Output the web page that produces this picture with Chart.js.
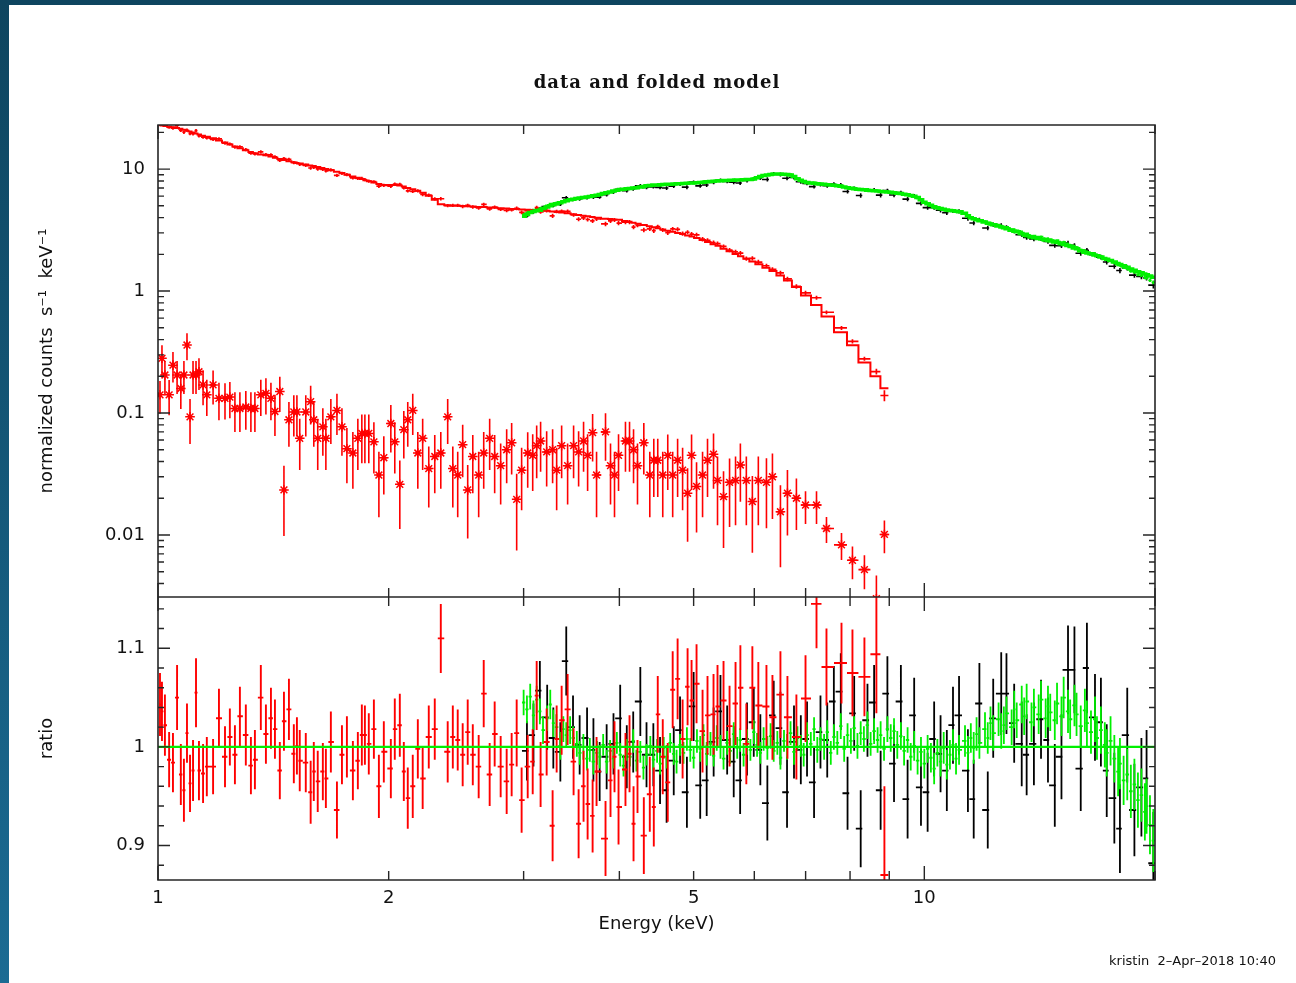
<!DOCTYPE html>
<html>
<head>
<meta charset="utf-8">
<title>data and folded model</title>
<script src="https://cdn.jsdelivr.net/npm/chart.js@4.4.1/dist/chart.umd.min.js"></script>
<style>
  html, body { margin: 0; padding: 0; }
  body { width: 1296px; height: 983px; overflow: hidden; position: relative;
         background: linear-gradient(#0e455f, #1b6b93); }
  #sheet { position: absolute; left: 9px; top: 5px; width: 1287px; height: 978px; background: #fff; }
  #chart { position: absolute; left: 0; top: 0; }
  #title { position: absolute; left: 0; width: 1296px; top: 66px; text-align: center;
           font: bold 18px "DejaVu Serif", serif; letter-spacing: 1px; color: #111; }
  #stamp { position: absolute; right: 20px; top: 948px; font: 13px "DejaVu Sans", sans-serif; color: #111; }
</style>
</head>
<body>
<div id="sheet">
  <canvas id="chart" width="1287" height="978"></canvas>
  <div id="title">data and folded model</div>
  <div id="stamp">kristin&nbsp;&nbsp;2&#8211;Apr&#8211;2018 10:40</div>
</div>
<script>
// axis tick labels
const xTickLabels = [1, 2, 5, 10];
const topTickLabels = [0.01, 0.1, 1, 10];
const ratioTickLabels = [0.9, 1, 1.1];

// spectrum 2 (red): bin centres (keV), folded model, data/model ratio and its error
const redEnergy = [
  1.006,1.012,1.021,1.034,1.046,1.059,1.071,1.081,1.091,1.101,
  1.111,1.121,1.131,1.145,1.158,1.180,1.201,1.223,1.241,1.260,
  1.279,1.302,1.322,1.338,1.362,1.383,1.404,1.421,1.442,1.460,
  1.482,1.504,1.518,1.531,1.559,1.582,1.597,1.616,1.641,1.656,
  1.681,1.712,1.738,1.764,1.796,1.823,1.845,1.862,1.884,1.913,
  1.942,1.971,2.013,2.037,2.068,2.093,2.118,2.150,2.183,2.215,
  2.256,2.297,2.339,2.388,2.425,2.461,2.498,2.536,2.575,2.621,
  2.661,2.709,2.750,2.800,2.851,2.894,2.938,2.982,3.037,3.083,
  3.120,3.157,3.215,3.273,3.313,3.363,3.424,3.486,3.539,3.592,
  3.636,3.691,3.735,3.837,3.895,3.942,3.990,4.074,4.124,4.174,
  4.224,4.305,4.383,4.436,4.489,4.557,4.626,4.695,4.765,4.837,
  4.910,4.969,5.044,5.136,5.213,5.308,5.372,5.470,5.570,5.671,
  5.754,5.858,5.965,6.073,6.223,6.336,6.490,6.628,6.809,6.998,
  7.233,7.453,7.797,8.058,8.353,8.659,8.870
];
const redModel = [
  22.9,22.8,22.6,22.3,22.0,21.7,21.4,21.0,20.6,20.3,
  20.0,19.6,19.2,18.8,18.4,17.9,17.2,16.5,15.9,15.3,
  14.8,14.3,13.8,13.5,13.2,13.0,12.7,12.4,12.1,11.9,
  11.6,11.4,11.2,11.1,10.9,10.7,10.6,10.4,10.2,10.0,
  9.8,9.5,9.3,9.0,8.7,8.5,8.3,8.1,7.95,7.75,
  7.55,7.4,7.4,7.4,7.35,7.2,7.0,6.85,6.65,6.4,
  6.05,5.6,5.15,5.05,5.0,5.0,4.98,4.96,4.93,4.9,
  4.88,4.85,4.82,4.78,4.75,4.72,4.7,4.67,4.65,4.62,
  4.6,4.58,4.55,4.5,4.46,4.4,4.34,4.27,4.21,4.15,
  4.1,4.05,4.0,3.92,3.9,3.87,3.84,3.76,3.7,3.63,
  3.57,3.48,3.4,3.33,3.27,3.2,3.12,3.06,3.0,2.94,
  2.86,2.8,2.72,2.62,2.53,2.42,2.35,2.22,2.12,2.01,
  1.93,1.84,1.75,1.66,1.55,1.46,1.34,1.22,1.08,0.92,
  0.77,0.62,0.46,0.36,0.26,0.2,0.16
];
const redRatio = [
  1.043,1.036,1.022,0.987,0.984,1.050,0.972,0.956,1.014,0.963,
  0.976,1.055,0.976,0.973,0.980,0.980,1.029,0.990,1.010,0.992,
  1.031,1.012,0.981,0.987,1.050,1.013,1.029,1.018,0.976,1.026,
  1.038,0.993,1.001,0.986,0.984,0.954,0.975,0.965,0.975,0.968,
  1.005,0.936,0.992,1.000,0.976,0.986,1.012,1.012,1.003,1.018,
  0.960,0.995,0.978,1.018,1.022,0.975,0.948,0.960,0.998,0.968,
  1.010,1.018,1.110,0.995,1.010,1.007,0.992,1.015,0.992,0.980,
  1.054,0.972,1.013,0.980,0.965,0.982,1.014,0.946,0.980,0.985,
  1.052,0.972,1.005,0.920,1.008,1.027,1.038,0.985,0.922,0.960,
  0.942,0.930,0.975,0.907,0.966,0.990,0.939,0.977,0.993,0.922,
  0.970,0.910,0.952,0.939,1.033,0.990,0.964,1.058,1.069,1.008,
  1.061,1.047,1.064,1.016,1.032,1.033,1.041,1.047,1.021,1.044,
  1.060,1.003,1.060,1.042,1.041,1.030,1.053,1.030,1.010,1.049,
  1.145,1.081,1.085,1.075,1.071,1.094,0.870
];
const redRatioErr = [
  0.032,0.03,0.031,0.028,0.03,0.033,0.031,0.032,0.03,0.029,
  0.031,0.035,0.03,0.03,0.03,0.028,0.03,0.031,0.029,0.03,
  0.03,0.031,0.029,0.03,0.033,0.03,0.031,0.03,0.029,0.03,
  0.031,0.03,0.029,0.031,0.03,0.032,0.03,0.031,0.029,0.03,
  0.031,0.029,0.03,0.031,0.03,0.029,0.031,0.03,0.031,0.03,
  0.032,0.031,0.03,0.031,0.032,0.03,0.031,0.032,0.03,0.031,
  0.032,0.031,0.035,0.031,0.032,0.031,0.032,0.033,0.031,0.032,
  0.034,0.032,0.033,0.031,0.033,0.032,0.034,0.033,0.032,0.033,
  0.035,0.033,0.034,0.036,0.034,0.035,0.036,0.034,0.035,0.036,
  0.036,0.037,0.035,0.038,0.037,0.036,0.038,0.037,0.039,0.038,
  0.037,0.039,0.038,0.04,0.039,0.038,0.04,0.039,0.041,0.04,
  0.039,0.041,0.04,0.042,0.04,0.041,0.042,0.04,0.041,0.042,
  0.043,0.041,0.042,0.044,0.042,0.043,0.044,0.042,0.043,0.044,
  0.045,0.039,0.041,0.044,0.04,0.06,0.09
];
// spectrum 2 background (red stars), same binning, with relative error
const redBkg = [
  0.141,0.281,0.205,0.141,0.247,0.205,0.159,0.205,0.361,0.093,
  0.205,0.205,0.218,0.170,0.141,0.170,0.132,0.132,0.135,0.109,
  0.109,0.112,0.109,0.109,0.141,0.145,0.132,0.103,0.150,0.0234,
  0.088,0.102,0.102,0.062,0.102,0.124,0.088,0.062,0.077,0.062,
  0.093,0.105,0.077,0.051,0.047,0.062,0.068,0.068,0.068,0.058,
  0.031,0.043,0.082,0.058,0.026,0.073,0.088,0.105,0.047,0.062,
  0.035,0.044,0.047,0.093,0.035,0.031,0.055,0.0234,0.044,0.031,
  0.047,0.062,0.044,0.037,0.050,0.057,0.0196,0.034,0.047,0.045,
  0.054,0.059,0.048,0.050,0.034,0.054,0.037,0.054,0.048,0.059,
  0.045,0.069,0.031,0.070,0.037,0.031,0.045,0.059,0.059,0.050,
  0.037,0.057,0.031,0.041,0.041,0.031,0.045,0.031,0.041,0.034,
  0.022,0.045,0.025,0.031,0.041,0.046,0.028,0.0206,0.027,0.028,
  0.0375,0.028,0.0188,0.028,0.027,0.030,0.0155,0.022,0.020,0.0176,
  0.0176,0.0113,0.0083,0.0062,0.0052,0.003,0.0101
];
const redBkgRelErr = [
  0.3,0.28,0.3,0.32,0.28,0.3,0.32,0.3,0.25,0.4,
  0.3,0.3,0.29,0.32,0.33,0.31,0.34,0.33,0.33,0.36,
  0.36,0.35,0.36,0.36,0.33,0.33,0.34,0.37,0.32,0.58,
  0.4,0.37,0.37,0.45,0.37,0.35,0.4,0.45,0.42,0.45,
  0.4,0.37,0.42,0.48,0.49,0.45,0.43,0.43,0.43,0.45,
  0.55,0.5,0.42,0.45,0.57,0.42,0.4,0.37,0.49,0.45,
  0.52,0.5,0.49,0.4,0.52,0.55,0.46,0.6,0.5,0.55,
  0.49,0.45,0.5,0.52,0.47,0.45,0.62,0.53,0.48,0.49,
  0.46,0.44,0.48,0.47,0.53,0.46,0.52,0.46,0.48,0.44,
  0.49,0.42,0.55,0.42,0.52,0.55,0.49,0.44,0.44,0.47,
  0.52,0.45,0.55,0.5,0.5,0.55,0.48,0.55,0.5,0.53,
  0.6,0.48,0.58,0.55,0.5,0.48,0.57,0.62,0.57,0.57,
  0.5,0.57,0.62,0.57,0.58,0.55,0.65,0.55,0.45,0.3,
  0.3,0.24,0.25,0.3,0.31,0.55,0.3
];

// spectrum 3 (green): bin centres (keV), folded model, ratio and error
const hardEnergy = [
  3.00,3.03,3.06,3.09,3.12,3.15,3.18,3.22,3.25,3.28,
  3.31,3.35,3.38,3.41,3.45,3.48,3.52,3.55,3.59,3.63,
  3.66,3.70,3.74,3.77,3.81,3.85,3.89,3.93,3.97,4.01,
  4.05,4.09,4.13,4.17,4.21,4.26,4.30,4.34,4.39,4.43,
  4.48,4.52,4.57,4.61,4.66,4.71,4.75,4.80,4.85,4.90,
  4.95,5.00,5.05,5.10,5.15,5.20,5.26,5.31,5.36,5.42,
  5.47,5.53,5.58,5.64,5.70,5.75,5.81,5.87,5.93,5.99,
  6.05,6.11,6.17,6.24,6.30,6.36,6.43,6.49,6.56,6.62,
  6.69,6.76,6.83,6.90,6.96,7.03,7.11,7.18,7.25,7.32,
  7.40,7.47,7.55,7.62,7.70,7.78,7.86,7.94,8.02,8.10,
  8.18,8.26,8.34,8.43,8.51,8.60,8.69,8.77,8.86,8.95,
  9.04,9.13,9.22,9.32,9.41,9.51,9.60,9.70,9.80,9.90,
  10.0,10.1,10.2,10.3,10.4,10.5,10.6,10.7,10.8,10.9,
  11.0,11.1,11.3,11.4,11.5,11.6,11.7,11.8,12.0,12.1,
  12.2,12.3,12.5,12.6,12.7,12.8,13.0,13.1,13.2,13.4,
  13.5,13.6,13.8,13.9,14.1,14.2,14.4,14.5,14.6,14.8,
  14.9,15.1,15.2,15.4,15.5,15.7,15.8,16.0,16.2,16.3,
  16.5,16.7,16.8,17.0,17.2,17.3,17.5,17.7,17.9,18.0,
  18.2,18.4,18.6,18.8,19.0,19.2,19.4,19.5,19.7,19.9
];
const hardModel = [
  4.1,4.25,4.4,4.5,4.55,4.6,4.75,4.9,5.0,5.1,
  5.2,5.3,5.4,5.5,5.6,5.65,5.75,5.8,5.85,5.9,
  5.95,6.05,6.1,6.2,6.3,6.4,6.5,6.6,6.7,6.8,
  6.85,6.9,6.95,7.0,7.05,7.15,7.2,7.3,7.35,7.4,
  7.42,7.45,7.48,7.5,7.52,7.55,7.58,7.6,7.63,7.65,
  7.68,7.7,7.74,7.78,7.82,7.86,7.9,7.95,8.0,8.02,
  8.05,8.07,8.1,8.12,8.14,8.16,8.18,8.2,8.22,8.3,
  8.5,8.7,8.85,8.95,9.05,9.1,9.12,9.1,9.08,9.05,
  8.95,8.7,8.35,8.1,7.9,7.78,7.7,7.65,7.6,7.55,
  7.5,7.45,7.42,7.38,7.3,7.22,7.15,7.05,6.98,6.9,
  6.85,6.8,6.76,6.72,6.68,6.64,6.6,6.56,6.52,6.48,
  6.45,6.4,6.35,6.3,6.22,6.15,6.08,6.0,5.85,5.6,
  5.35,5.2,5.05,4.92,4.82,4.75,4.68,4.62,4.58,4.55,
  4.52,4.48,4.35,4.15,4.0,3.92,3.85,3.78,3.68,3.6,
  3.55,3.5,3.41,3.36,3.3,3.25,3.15,3.1,3.06,2.96,
  2.88,2.84,2.77,2.74,2.7,2.67,2.62,2.6,2.57,2.53,
  2.5,2.44,2.41,2.36,2.32,2.26,2.22,2.14,2.08,2.05,
  2.02,1.98,1.95,1.9,1.85,1.82,1.78,1.73,1.68,1.65,
  1.61,1.57,1.52,1.48,1.44,1.41,1.38,1.36,1.33,1.3
];
const greenRatio = [
  1.045,1.038,1.051,1.032,1.048,1.036,1.017,1.029,1.043,1.024,
  1.02,1.001,1.018,1.012,1.017,1.009,1.003,0.994,1.0,0.988,
  0.997,0.985,0.994,0.99,1.002,0.985,0.996,0.988,1.004,0.992,
  0.981,0.997,0.99,1.006,0.986,0.995,0.979,0.992,1.001,0.987,
  0.996,0.983,0.999,0.99,1.004,0.993,0.985,1.002,0.994,1.008,
  0.997,0.989,1.006,0.998,1.012,0.993,1.003,0.991,1.009,1.0,
  0.988,1.004,0.996,1.013,0.999,1.007,0.992,1.005,0.997,1.015,
  1.002,0.994,1.008,0.999,1.011,0.996,1.004,0.989,1.006,1.0,
  1.014,0.995,1.009,1.001,0.992,1.012,1.003,1.018,0.997,1.008,
  1.0,1.015,0.994,1.01,1.004,1.021,0.998,1.012,1.006,1.019,
  1.001,1.014,1.008,1.022,1.003,1.016,1.007,1.012,0.998,1.018,
  1.009,1.016,1.002,1.011,0.996,1.007,0.99,1.001,0.986,0.995,
  0.983,0.998,0.989,0.978,0.994,0.985,0.999,0.982,0.992,1.002,
  0.988,0.997,1.006,0.994,1.009,0.999,1.013,1.004,1.018,1.009,
  1.024,1.014,1.028,1.016,1.022,1.034,1.02,1.038,1.027,1.043,
  1.031,1.046,1.025,1.04,1.033,1.048,1.029,1.041,1.035,1.027,
  1.044,1.031,1.05,1.036,1.028,1.042,1.033,1.021,1.037,1.024,
  1.015,1.028,1.009,1.017,1.002,0.994,1.006,0.988,0.975,0.983,
  0.966,0.972,0.955,0.962,0.946,0.951,0.934,0.94,0.921,0.905
];
const greenRatioErr = [
  0.013,0.014,0.013,0.015,0.014,0.013,0.014,0.013,0.015,0.014,
  0.013,0.014,0.013,0.013,0.014,0.012,0.013,0.012,0.013,0.012,
  0.012,0.013,0.012,0.012,0.011,0.012,0.011,0.010,0.011,0.012,
  0.011,0.011,0.010,0.012,0.011,0.011,0.012,0.011,0.010,0.011,
  0.012,0.011,0.011,0.012,0.010,0.011,0.012,0.011,0.011,0.012,
  0.012,0.011,0.012,0.013,0.011,0.012,0.012,0.011,0.013,0.012,
  0.011,0.012,0.013,0.012,0.011,0.012,0.012,0.013,0.011,0.012,
  0.012,0.011,0.012,0.012,0.013,0.011,0.012,0.012,0.011,0.013,
  0.012,0.013,0.012,0.011,0.012,0.013,0.012,0.012,0.013,0.012,
  0.013,0.012,0.012,0.013,0.012,0.013,0.013,0.012,0.013,0.012,
  0.013,0.012,0.013,0.014,0.012,0.013,0.013,0.014,0.012,0.013,
  0.014,0.013,0.014,0.014,0.015,0.013,0.014,0.015,0.014,0.015,
  0.015,0.014,0.015,0.016,0.014,0.015,0.016,0.015,0.015,0.016,
  0.016,0.015,0.016,0.017,0.015,0.016,0.017,0.016,0.017,0.016,
  0.017,0.018,0.017,0.018,0.019,0.017,0.018,0.019,0.018,0.019,
  0.019,0.018,0.02,0.019,0.02,0.019,0.02,0.021,0.019,0.02,
  0.021,0.02,0.021,0.022,0.02,0.021,0.022,0.021,0.022,0.023,
  0.022,0.023,0.022,0.024,0.023,0.024,0.025,0.024,0.025,0.026,
  0.025,0.026,0.027,0.026,0.028,0.027,0.029,0.028,0.03,0.032
];

// spectrum 1 (black): one bin per two green channels, cross-normalised model
const BLACK_NORM = 0.975;
const blackRatio = [
  0.996,1.012,1.057,1.03,1.009,0.995,1.087,1.02,1.002,1.009,
  0.997,0.975,0.99,1.003,1.029,0.99,1.005,1.046,0.992,0.992,
  0.976,0.956,0.986,1.017,0.954,1.041,0.961,0.966,1.005,1.036,
  1.007,0.985,0.966,1.008,1.025,0.997,0.943,1.032,1.019,0.954,
  1.005,0.997,1.008,0.964,1.015,1.007,1.046,1.056,0.953,1.034,
  0.917,1.027,1.045,0.956,1.054,0.983,1.046,0.947,1.032,0.959,
  0.954,1.008,0.993,0.976,1.022,1.032,0.976,0.947,1.044,0.936,
  1.029,1.054,1.054,1.024,1.003,0.992,1.003,1.028,1.007,0.961,
  0.99,1.078,1.078,0.978,1.08,1.03,1.025,0.976,0.948,0.917,
  1.012,0.936,0.959,0.968,0.882
];
const blackRatioErr = [
  0.03,0.032,0.03,0.033,0.031,0.03,0.035,0.032,0.03,0.031,
  0.032,0.03,0.033,0.031,0.034,0.032,0.031,0.035,0.033,0.032,
  0.034,0.033,0.035,0.034,0.036,0.035,0.034,0.036,0.035,0.037,
  0.035,0.036,0.034,0.037,0.035,0.036,0.038,0.035,0.037,0.036,
  0.037,0.035,0.038,0.036,0.037,0.038,0.036,0.039,0.037,0.038,
  0.039,0.037,0.038,0.04,0.038,0.039,0.037,0.04,0.038,0.039,
  0.04,0.038,0.039,0.041,0.039,0.04,0.042,0.04,0.041,0.039,
  0.04,0.042,0.041,0.04,0.043,0.041,0.042,0.04,0.043,0.042,
  0.043,0.045,0.044,0.043,0.046,0.044,0.045,0.047,0.046,0.045,
  0.048,0.047,0.05,0.049,0.052
];

// axis ranges
const X_MIN = 1, X_MAX = 20;
const TOP_MIN = 0.0031, TOP_MAX = 23;
const RATIO_MIN = 0.865, RATIO_MAX = 1.152;

const RED = '#ff0000', GREEN = '#00f000', BLACK = '#000000';

Chart.defaults.font.family = "'DejaVu Sans', sans-serif";
Chart.defaults.color = '#111';

// channel edges half way (in log E) between neighbouring bin centres
function binEdges(E) {
  const lo = [], hi = [];
  for (let i = 0; i < E.length; i++) {
    const l = i > 0 ? Math.sqrt(E[i - 1] * E[i]) : E[0] * E[0] / Math.sqrt(E[0] * E[1]);
    const h = i < E.length - 1 ? Math.sqrt(E[i] * E[i + 1]) : E[i] * E[i] / Math.sqrt(E[i - 1] * E[i]);
    lo.push(l); hi.push(h);
  }
  return { lo, hi };
}

const redEdges = binEdges(redEnergy);
const hardEdges = binEdges(hardEnergy);

const redData = redEnergy.map((e, i) => ({
  x: e, y: redModel[i] * redRatio[i], x0: redEdges.lo[i], x1: redEdges.hi[i],
  y0: redModel[i] * (redRatio[i] - redRatioErr[i]), y1: redModel[i] * (redRatio[i] + redRatioErr[i])
}));
const redBkgData = redEnergy.map((e, i) => ({
  x: e, y: redBkg[i], x0: redEdges.lo[i], x1: redEdges.hi[i],
  y0: redBkg[i] * (1 - redBkgRelErr[i]), y1: redBkg[i] * (1 + redBkgRelErr[i])
}));
const redRatioData = redEnergy.map((e, i) => ({
  x: e, y: redRatio[i], x0: redEdges.lo[i], x1: redEdges.hi[i],
  y0: redRatio[i] - redRatioErr[i], y1: redRatio[i] + redRatioErr[i]
}));
const redModelLine = redEnergy.flatMap((e, i) => [
  { x: redEdges.lo[i], y: redModel[i] }, { x: redEdges.hi[i], y: redModel[i] }
]);

const greenData = hardEnergy.map((e, i) => ({
  x: e, y: hardModel[i] * greenRatio[i], x0: hardEdges.lo[i], x1: hardEdges.hi[i],
  y0: hardModel[i] * (greenRatio[i] - greenRatioErr[i]), y1: hardModel[i] * (greenRatio[i] + greenRatioErr[i])
}));
const greenRatioData = hardEnergy.map((e, i) => ({
  x: e, y: greenRatio[i], x0: hardEdges.lo[i], x1: hardEdges.hi[i],
  y0: greenRatio[i] - greenRatioErr[i], y1: greenRatio[i] + greenRatioErr[i]
}));
const greenModelLine = hardEnergy.flatMap((e, i) => [
  { x: hardEdges.lo[i], y: hardModel[i] }, { x: hardEdges.hi[i], y: hardModel[i] }
]);

const blackData = [], blackRatioData = [];
blackRatio.forEach((r, k) => {
  const j = 2 * k + 1;
  const m = BLACK_NORM * hardModel[j];
  const x0 = hardEdges.lo[j - 1], x1 = hardEdges.hi[j];
  blackData.push({ x: hardEnergy[j], y: m * r, x0, x1, y0: m * (r - blackRatioErr[k]), y1: m * (r + blackRatioErr[k]) });
  blackRatioData.push({ x: hardEnergy[j], y: r, x0, x1, y0: r - blackRatioErr[k], y1: r + blackRatioErr[k] });
});

const unityLine = [{ x: X_MIN, y: 1 }, { x: X_MAX, y: 1 }];

function crosses(axis, color, width, data, extra) {
  return Object.assign({
    yAxisID: axis, data, borderColor: color, backgroundColor: color,
    pointRadius: 0, showLine: false, errorBars: true, errorWidth: width, clip: false
  }, extra || {});
}
function histo(axis, color, width, data) {
  return {
    yAxisID: axis, data, borderColor: color, borderWidth: width,
    pointRadius: 0, showLine: true, fill: false, tension: 0, clip: false
  };
}

// drawing sequence, first entry painted first
const layers = [
  crosses('yTop', BLACK, 1.6, blackData),
  crosses('yTop', GREEN, 1.8, greenData),
  crosses('yTop', RED, 1.7, redData),
  crosses('yTop', RED, 1.6, redBkgData, {
    pointStyle: 'star', pointRadius: 4.8, pointBorderColor: RED, pointBorderWidth: 1.5
  }),
  histo('yTop', RED, 2, redModelLine),
  histo('yTop', GREEN, 3.5, greenModelLine),
  crosses('yBot', BLACK, 1.8, blackRatioData),
  crosses('yBot', GREEN, 1.8, greenRatioData),
  crosses('yBot', RED, 1.9, redRatioData),
  histo('yBot', GREEN, 2.2, unityLine)
];
layers.forEach((d, i) => { d.order = layers.length - i; });

// clip each dataset to its own panel and add the error crosses
const panelErrors = {
  id: 'panelErrors',
  beforeDatasetDraw(chart, args) {
    const ds = chart.data.datasets[args.index];
    const ys = chart.scales[ds.yAxisID], a = chart.chartArea;
    const ctx = chart.ctx;
    ctx.save();
    ctx.beginPath();
    ctx.rect(a.left, ys.top, a.right - a.left, ys.bottom - ys.top);
    ctx.clip();
  },
  afterDatasetDraw(chart, args) {
    const ds = chart.data.datasets[args.index];
    const ctx = chart.ctx;
    if (ds.errorBars) {
      const xs = chart.scales.x, ys = chart.scales[ds.yAxisID];
      ctx.strokeStyle = ds.borderColor;
      ctx.lineWidth = ds.errorWidth;
      ctx.beginPath();
      for (const p of ds.data) {
        const px = xs.getPixelForValue(p.x), py = ys.getPixelForValue(p.y);
        ctx.moveTo(xs.getPixelForValue(p.x0), py);
        ctx.lineTo(xs.getPixelForValue(p.x1), py);
        ctx.moveTo(px, ys.getPixelForValue(Math.max(p.y0, 1e-6)));
        ctx.lineTo(px, ys.getPixelForValue(p.y1));
      }
      ctx.stroke();
    }
    ctx.restore();
  }
};

// box around both panels with inward ticks (pgplot style)
const frame = {
  id: 'frame',
  afterDatasetsDraw(chart) {
    const { ctx, chartArea: a, scales } = chart;
    const xs = scales.x, yt = scales.yTop, yb = scales.yBot;
    const seg = (x1, y1, x2, y2) => { ctx.moveTo(x1, y1); ctx.lineTo(x2, y2); };
    ctx.save();
    ctx.strokeStyle = '#262626';
    ctx.lineWidth = 1.6;
    ctx.beginPath();
    ctx.rect(a.left, a.top, a.right - a.left, a.bottom - a.top);
    seg(a.left, yt.bottom, a.right, yt.bottom);
    ctx.stroke();

    ctx.lineWidth = 1.4;
    ctx.beginPath();
    for (let d = 1; d <= 10; d *= 10) {
      for (let m = 1; m <= 9; m++) {
        const v = m * d;
        if (v < X_MIN || v > X_MAX) continue;
        const px = xs.getPixelForValue(v), len = m === 1 ? 14 : 9;
        seg(px, yt.top, px, yt.top + len);
        seg(px, yt.bottom, px, yt.bottom - len);
        seg(px, yb.top, px, yb.top + len);
        seg(px, yb.bottom, px, yb.bottom - len);
      }
    }
    for (let k = -3; k <= 1; k++) {
      for (let m = 1; m <= 9; m++) {
        const v = m * Math.pow(10, k);
        if (v < TOP_MIN || v > TOP_MAX) continue;
        const py = yt.getPixelForValue(v), len = m === 1 ? 12 : 6;
        seg(a.left, py, a.left + len, py);
        seg(a.right, py, a.right - len, py);
      }
    }
    for (let i = 44; i <= 57; i++) {
      const v = i * 0.02;
      const py = yb.getPixelForValue(v), len = i % 5 === 0 ? 12 : 6;
      seg(a.left, py, a.left + len, py);
      seg(a.right, py, a.right - len, py);
    }
    ctx.stroke();
    ctx.restore();
  }
};

const tickFont = { family: "'DejaVu Sans', sans-serif", size: 18 };
const titleFont = { family: "'DejaVu Sans', sans-serif", size: 18 };
const noGrid = { display: false, drawTicks: false };

new Chart(document.getElementById('chart'), {
  type: 'scatter',
  data: { datasets: layers },
  options: {
    responsive: false,
    animation: false,
    devicePixelRatio: 1,
    events: [],
    layout: { padding: { left: 0, top: 120, right: 141, bottom: 43 } },
    plugins: { legend: { display: false }, tooltip: { enabled: false } },
    scales: {
      x: {
        type: 'logarithmic', min: X_MIN, max: X_MAX, bounds: 'data', position: 'bottom',
        grid: noGrid, border: { display: false },
        afterBuildTicks: s => { s.ticks = xTickLabels.map(v => ({ value: v })); },
        ticks: { callback: v => String(v), font: tickFont, color: '#111', padding: 8, maxRotation: 0, autoSkip: false },
        title: { display: true, text: 'Energy (keV)', font: titleFont, color: '#111', padding: { top: 0, bottom: 5 } },
        afterFit: s => { s.height = 60; }
      },
      yBot: {
        type: 'linear', min: RATIO_MIN, max: RATIO_MAX, bounds: 'data', position: 'left',
        stack: 'panels', stackWeight: 283,
        grid: noGrid, border: { display: false },
        afterBuildTicks: s => { s.ticks = ratioTickLabels.map(v => ({ value: v })); },
        ticks: { callback: v => String(v), font: tickFont, color: '#111', padding: 13, autoSkip: false },
        title: { display: true, text: 'ratio', font: titleFont, color: '#111', padding: { top: 28, bottom: 0 } },
        afterFit: s => { s.width = 149; }
      },
      yTop: {
        type: 'logarithmic', min: TOP_MIN, max: TOP_MAX, bounds: 'data', position: 'left',
        stack: 'panels', stackWeight: 472,
        grid: noGrid, border: { display: false },
        afterBuildTicks: s => { s.ticks = topTickLabels.map(v => ({ value: v })); },
        ticks: { callback: v => String(v), font: tickFont, color: '#111', padding: 13, autoSkip: false },
        title: { display: true, text: 'normalized counts  s\u207B\u00B9  keV\u207B\u00B9', font: titleFont, color: '#111', padding: { top: 28, bottom: 0 } },
        afterFit: s => { s.width = 149; }
      }
    }
  },
  plugins: [panelErrors, frame]
});
</script>
</body>
</html>
